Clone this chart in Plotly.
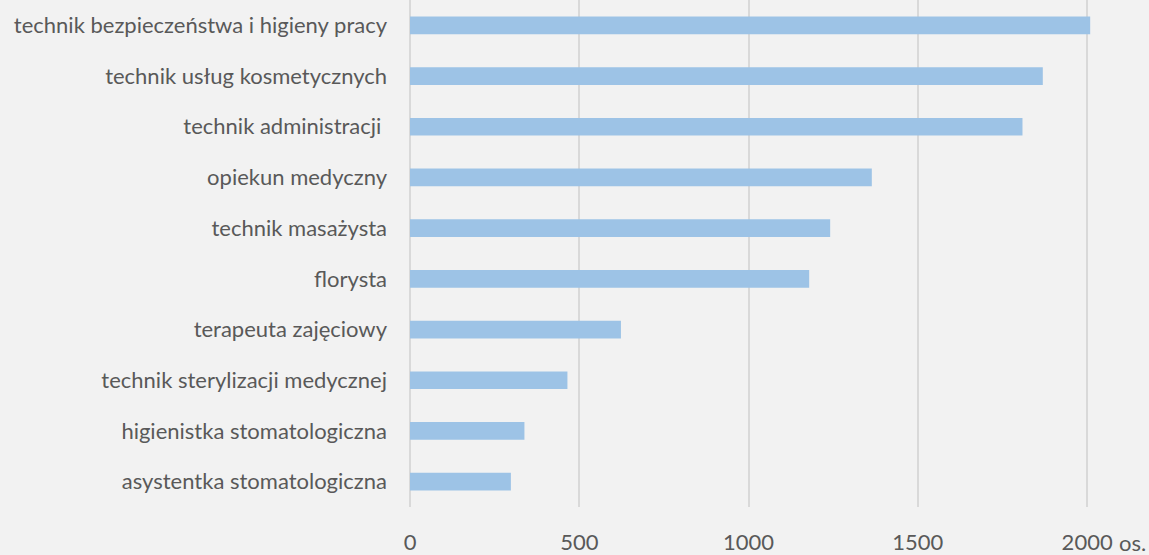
import plotly.graph_objects as go

categories = [
    "technik bezpieczeństwa i higieny pracy",
    "technik usług kosmetycznych",
    "technik administracji ",
    "opiekun medyczny",
    "technik masażysta",
    "florysta",
    "terapeuta zajęciowy",
    "technik sterylizacji medycznej",
    "higienistka stomatologiczna",
    "asystentka stomatologiczna",
]
values = [2009, 1869, 1809, 1364, 1241, 1179, 623, 465, 338, 298]
tick_vals = [0, 500, 1000, 1500, 2000]
tick_text = ["0", "500", "1000", "1500", "2000"]
unit_label = "os."

TEXT = "#595959"
FONT = "Lato"

fig = go.Figure(
    go.Bar(
        x=values,
        y=categories,
        orientation="h",
        marker=dict(color="#9DC3E6", line=dict(width=0)),
        width=0.35,
        hoverinfo="x+y",
    )
)

fig.update_layout(
    width=1149,
    height=555,
    margin=dict(l=410, r=28, t=0, b=40),
    paper_bgcolor="#F2F2F2",
    plot_bgcolor="#F2F2F2",
    showlegend=False,
    font=dict(family=FONT, size=22, color=TEXT),
    xaxis=dict(
        range=[0, 2100],
        tickvals=tick_vals,
        ticktext=tick_text,
        showgrid=True,
        gridcolor="#D9D9D9",
        gridwidth=2,
        zeroline=True,
        zerolinecolor="#D9D9D9",
        zerolinewidth=2,
        showline=False,
        ticks="",
        ticklabelstandoff=20,
        tickfont=dict(family=FONT, size=22, color=TEXT),
        fixedrange=True,
    ),
    yaxis=dict(
        categoryorder="array",
        categoryarray=categories[::-1],
        autorange=False,
        range=[-0.5, 9.5],
        showgrid=False,
        showline=False,
        ticks="",
        ticklabelstandoff=22,
        tickfont=dict(family=FONT, size=22, color=TEXT),
        fixedrange=True,
    ),
)

fig.add_annotation(
    x=2000,
    y=0,
    xref="x",
    yref="paper",
    text=unit_label,
    showarrow=False,
    xanchor="left",
    yanchor="middle",
    xshift=30,
    yshift=-35,
    font=dict(family=FONT, size=22, color=TEXT),
)

fig.write_html(
    "out.html",
    config={"displayModeBar": False},
    post_script="document.body.style.margin='0';",
)
